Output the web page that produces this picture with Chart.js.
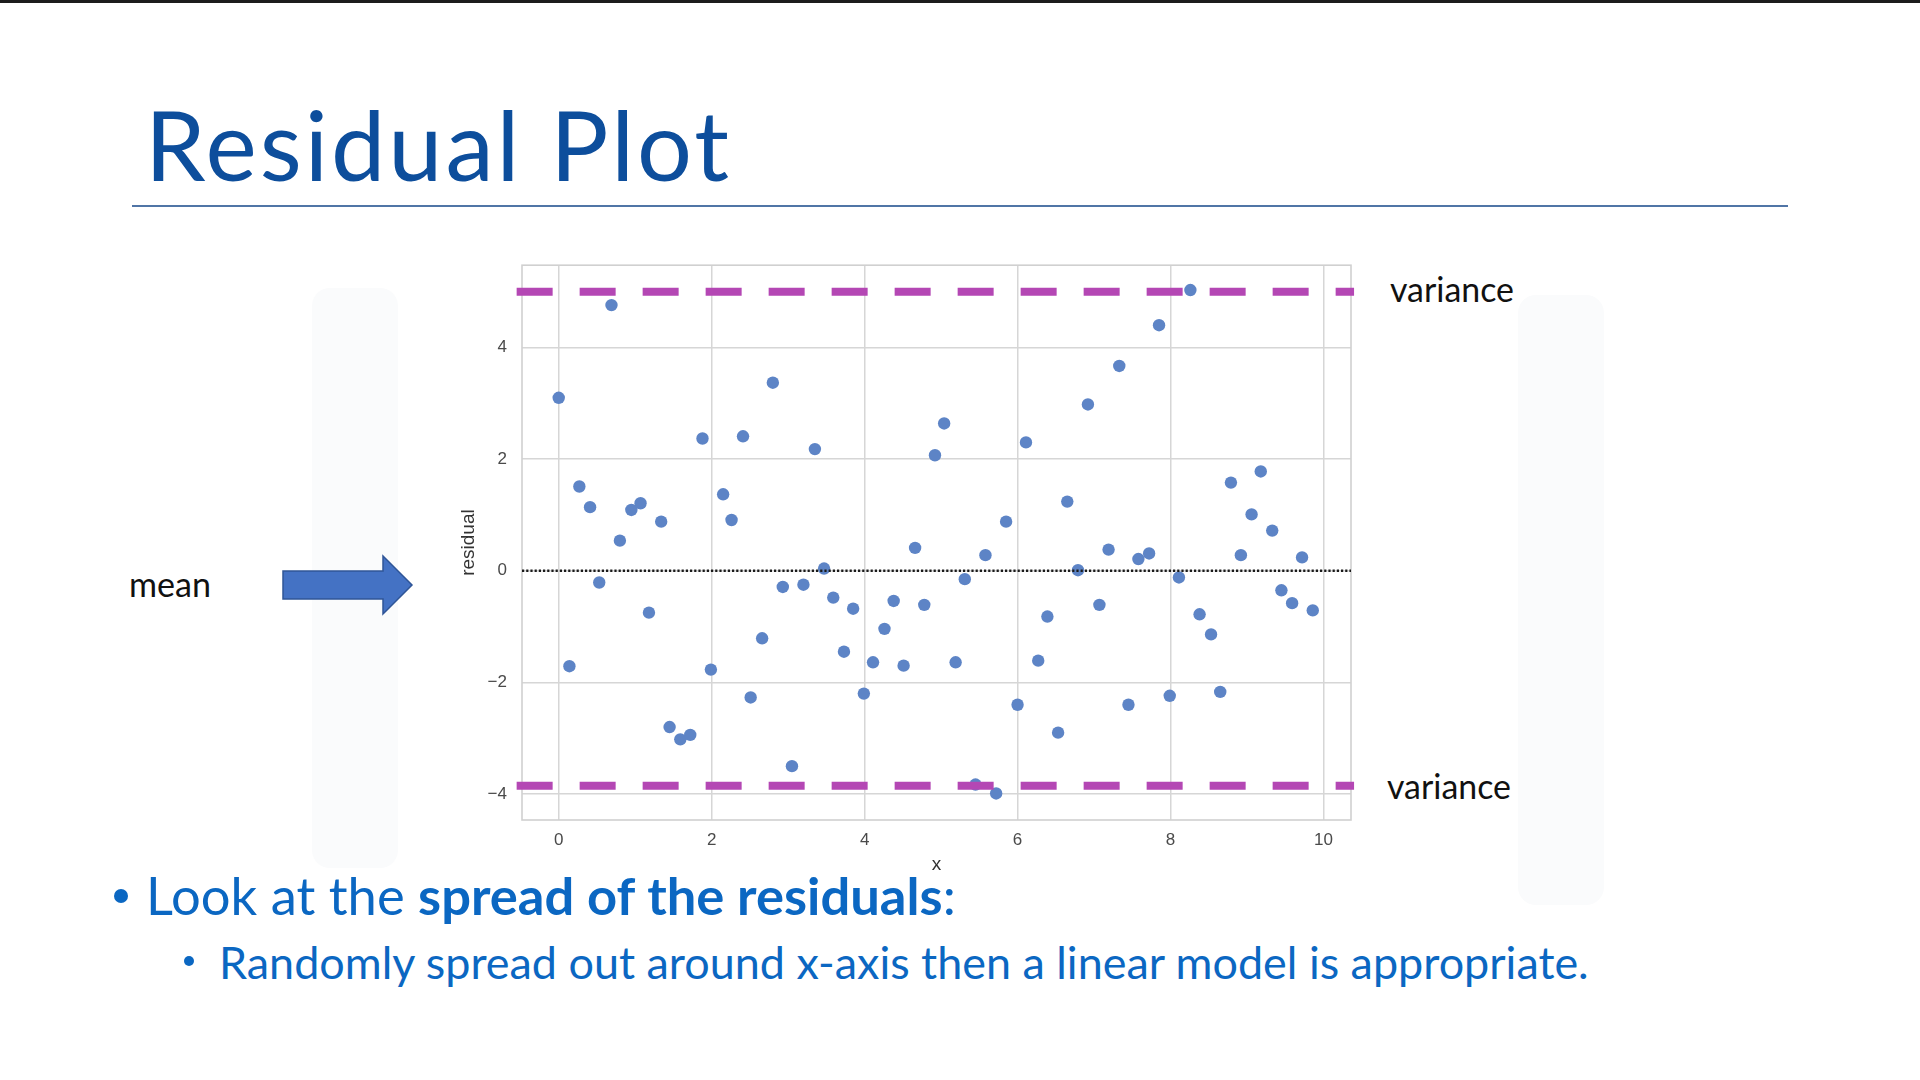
<!DOCTYPE html>
<html>
<head>
<meta charset="utf-8">
<script src="https://cdn.jsdelivr.net/npm/chart.js@4.4.1/dist/chart.umd.min.js"></script>
<style>
  html, body { margin: 0; padding: 0; background: #fff; }
  body { width: 1920px; height: 1080px; position: relative; overflow: hidden; font-family: Lato, "Open Sans", sans-serif; }
  .abs { position: absolute; }
  .txt { position: absolute; white-space: nowrap; line-height: 1; }
  .wm { position: absolute; background: #fafbfc; border-radius: 18px; }
  .dot { position: absolute; border-radius: 50%; background: #0b67c2; }
</style>
</head>
<body>
<div class="abs" style="left:0;top:0;width:1920px;height:3px;background:#1c1c1c"></div>

<!-- faint watermark shapes behind the plot -->
<div class="wm" style="left:312px;top:288px;width:86px;height:580px"></div>
<div class="wm" style="left:1518px;top:295px;width:86px;height:610px"></div>

<div id="title" class="txt" data-left="145" data-base="181" data-size="97" data-w="584"
     style="color:#0d4e9c">Residual Plot</div>
<div class="abs" style="left:132px;top:205px;width:1656px;height:1.5px;background:#5075a6"></div>

<div class="txt fit" data-left="129" data-base="597" data-w="82" style="color:#111">mean</div>
<div class="txt fit" data-left="1390" data-base="303" data-w="124" style="color:#111">variance</div>
<div class="txt fit" data-left="1387" data-base="800" data-w="124" style="color:#111">variance</div>

<svg class="abs" style="left:280px;top:553px" width="136" height="64">
  <polygon points="3,18 103,18 103,3 132,32 103,61 103,46 3,46"
           fill="#4472c4" stroke="#2f5597" stroke-width="1.5"/>
</svg>

<canvas id="chart" class="abs" style="left:440px;top:240px" width="940" height="650"></canvas>

<div class="dot" style="left:114px;top:889px;width:14px;height:14px"></div>
<div class="txt fit" data-left="146" data-base="916" data-w="810" style="color:#0b67c2">Look at the <b>spread of the residuals</b>:</div>
<div class="dot" style="left:184px;top:956px;width:10px;height:10px"></div>
<div class="txt fit" data-left="219" data-base="980" data-w="1370" style="color:#0b67c2">Randomly spread out around x-axis then a linear model is appropriate.</div>

<script>
// residuals
const xValues = [
  0.00, 0.14, 0.27, 0.41, 0.53, 0.69, 0.80, 0.95, 1.07, 1.18,
  1.34, 1.45, 1.59, 1.72, 1.88, 1.99, 2.15, 2.26, 2.41, 2.51,
  2.66, 2.80, 2.93, 3.05, 3.20, 3.35, 3.47, 3.59, 3.73, 3.85,
  3.99, 4.11, 4.26, 4.38, 4.51, 4.66, 4.78, 4.92, 5.04, 5.19,
  5.31, 5.45, 5.58, 5.72, 5.85, 6.00, 6.11, 6.27, 6.39, 6.53,
  6.65, 6.79, 6.92, 7.07, 7.19, 7.33, 7.45, 7.58, 7.72, 7.85,
  7.99, 8.11, 8.26, 8.38, 8.53, 8.65, 8.79, 8.92, 9.06, 9.18,
  9.33, 9.45, 9.59, 9.72, 9.86
];
const residuals = [
  3.10, -1.71, 1.51, 1.14, -0.21, 4.76, 0.54, 1.09, 1.21, -0.75,
  0.88, -2.80, -3.02, -2.94, 2.37, -1.77, 1.37, 0.91, 2.41, -2.27,
  -1.21, 3.37, -0.29, -3.50, -0.25, 2.18, 0.04, -0.48, -1.45, -0.68,
  -2.20, -1.64, -1.04, -0.54, -1.70, 0.41, -0.61, 2.07, 2.64, -1.64,
  -0.15, -3.83, 0.28, -3.99, 0.88, -2.40, 2.30, -1.61, -0.82, -2.90,
  1.24, 0.01, 2.98, -0.61, 0.38, 3.67, -2.40, 0.21, 0.31, 4.40,
  -2.24, -0.12, 5.03, -0.78, -1.14, -2.17, 1.58, 0.28, 1.01, 1.78,
  0.72, -0.35, -0.58, 0.24, -0.71
];
const xTicks = [0, 2, 4, 6, 8, 10];
const yTicks = [-4, -2, 0, 2, 4];
const meanLevel = 0;
const upperVariance = 5.0;
const lowerVariance = -3.85;

// axis limits and how far the variance lines run past the frame
const X_MIN = -0.48, X_MAX = 10.36;
const Y_MIN = -4.465, Y_MAX = 5.475;
const varLineFrom = -0.55, varLineTo = 10.4;

const points = xValues.map((x, i) => ({ x: x, y: residuals[i] }));
const hLine = (y, a, b) => [{ x: a, y: y }, { x: b, y: y }];
const fmt = v => (v < 0 ? '\u2212' + Math.abs(v) : String(v));

const frame = {
  id: 'frame',
  beforeDraw(chart) {
    const a = chart.chartArea, ctx = chart.ctx;
    ctx.save();
    ctx.fillStyle = '#fff';
    ctx.fillRect(a.left, a.top, a.right - a.left, a.bottom - a.top);
    ctx.restore();
  },
  beforeDatasetsDraw(chart) {
    const a = chart.chartArea, ctx = chart.ctx;
    ctx.save();
    ctx.strokeStyle = '#d0d0d0';
    ctx.lineWidth = 1.6;
    ctx.strokeRect(a.left, a.top, a.right - a.left, a.bottom - a.top);
    ctx.restore();
  }
};

const tickFont = { family: '"Liberation Sans", Arial, sans-serif', size: 17 };
const titleFont = { family: '"Liberation Sans", Arial, sans-serif', size: 19 };

new Chart(document.getElementById('chart'), {
  type: 'scatter',
  data: {
    datasets: [
      {
        label: 'residuals',
        data: points,
        backgroundColor: '#5d84c6',
        borderWidth: 0,
        pointRadius: 6.2,
        order: 3
      },
      {
        label: 'mean',
        data: hLine(meanLevel, X_MIN, X_MAX),
        showLine: true,
        borderColor: '#1a1a1a',
        borderWidth: 2.6,
        borderDash: [2.2, 2.0],
        pointRadius: 0,
        order: 2
      },
      {
        label: 'upper variance',
        data: hLine(upperVariance, varLineFrom, varLineTo),
        showLine: true,
        borderColor: '#b447b4',
        borderWidth: 8,
        borderDash: [36, 27],
        pointRadius: 0,
        clip: false,
        order: 1
      },
      {
        label: 'lower variance',
        data: hLine(lowerVariance, varLineFrom, varLineTo),
        showLine: true,
        borderColor: '#b447b4',
        borderWidth: 8,
        borderDash: [36, 27],
        pointRadius: 0,
        clip: false,
        order: 1
      }
    ]
  },
  options: {
    responsive: false,
    devicePixelRatio: 1,
    animation: false,
    layout: { padding: { left: 0, right: 29, top: 25, bottom: 0 } },
    plugins: { legend: { display: false }, tooltip: { enabled: false } },
    scales: {
      x: {
        type: 'linear',
        min: X_MIN,
        max: X_MAX,
        afterBuildTicks: s => { s.ticks = xTicks.map(v => ({ value: v })); },
        afterFit: s => { s.height = 70; },
        grid: { color: '#d6d6d6', lineWidth: 1.5, drawTicks: false },
        border: { display: false },
        ticks: { color: '#4a4a4a', font: tickFont, padding: 10, maxRotation: 0, callback: v => fmt(v) },
        title: { display: true, text: 'x', color: '#333', font: titleFont, padding: { top: 0, bottom: 14 } }
      },
      y: {
        type: 'linear',
        min: Y_MIN,
        max: Y_MAX,
        afterBuildTicks: s => { s.ticks = yTicks.map(v => ({ value: v })); },
        afterFit: s => { s.width = 82; },
        grid: { color: '#d6d6d6', lineWidth: 1.5, drawTicks: false },
        border: { display: false },
        ticks: { color: '#4a4a4a', font: tickFont, padding: 15, callback: v => fmt(v) },
        title: { display: true, text: 'residual', color: '#333', font: titleFont, padding: { top: 17, bottom: 0 } }
      }
    }
  },
  plugins: [frame]
});

// slide text: fit widths to the original, then sit on the baseline
const ASC = 0.887;
document.querySelectorAll('.fit').forEach(el => {
  el.style.fontSize = '40px';
  const w = el.getBoundingClientRect().width;
  const fs = 40 * (+el.dataset.w) / w;
  el.style.fontSize = fs + 'px';
  el.style.left = el.dataset.left + 'px';
  el.style.top = (+el.dataset.base - ASC * fs) + 'px';
});
const t = document.getElementById('title');
const tfs = +t.dataset.size;
t.style.fontSize = tfs + 'px';
const tw = t.getBoundingClientRect().width;
t.style.letterSpacing = ((+t.dataset.w - tw) / (t.textContent.length - 1)) + 'px';
t.style.left = t.dataset.left + 'px';
t.style.top = (+t.dataset.base - ASC * tfs) + 'px';
</script>
</body>
</html>
